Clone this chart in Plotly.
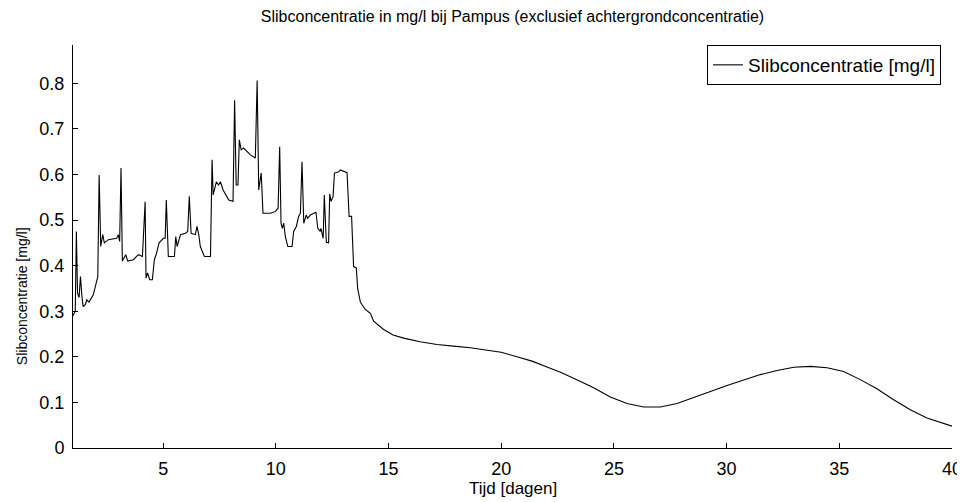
"""
Slibconcentratie bij Pampus over de tijd (exclusief achtergrondconcentratie).
"""

import plotly.graph_objects as go

# Tijd in dagen en concentratie in mg/l
tijd = [
    1.0, 1.1, 1.15, 1.2, 1.27, 1.33, 1.4, 1.45, 1.55, 1.61, 1.71, 1.9, 2.1, 2.16,
    2.23, 2.32, 2.39, 2.57, 2.94, 3.01, 3.07, 3.13, 3.19, 3.34, 3.43, 3.68, 3.9,
    4.08, 4.2, 4.24, 4.31, 4.4, 4.52, 4.61, 4.71, 4.82, 5.01, 5.09, 5.14, 5.23,
    5.5, 5.56, 5.62, 5.77, 5.99, 6.09, 6.16, 6.24, 6.43, 6.5, 6.58, 6.65, 6.83,
    7.1, 7.17, 7.22, 7.36, 7.46, 7.54, 7.66, 7.91, 8.1, 8.17, 8.24, 8.32, 8.38,
    8.46, 8.57, 8.87, 9.09, 9.17, 9.24, 9.35, 9.39, 9.43, 9.76, 9.98, 10.1,
    10.17, 10.23, 10.29, 10.35, 10.42, 10.53, 10.72, 10.79, 10.91, 11.01, 11.09,
    11.16, 11.24, 11.35, 11.41, 11.53, 11.68, 11.78, 11.86, 11.97, 12.0, 12.1,
    12.15, 12.24, 12.34, 12.39, 12.45, 12.54, 12.6, 12.79, 12.86, 13.16, 13.25,
    13.36, 13.45, 13.57, 13.63, 13.75, 13.95, 14.2, 14.34, 14.78, 15.2, 15.67,
    16.4, 17.15, 18.0, 18.63, 19.3, 20.0, 20.7, 21.4, 22.0, 22.63, 23.52, 24.1,
    24.84, 25.58, 26.32, 27.06, 27.8, 28.54, 29.28, 30.02, 30.76, 31.5, 32.24,
    32.98, 33.72, 34.46, 35.19, 35.93, 36.67, 37.41, 38.15, 38.89, 40.0,
]
slib = [
    0.29, 0.30, 0.475, 0.34, 0.33, 0.376, 0.33, 0.31, 0.315, 0.325, 0.32, 0.336,
    0.376, 0.599, 0.442, 0.468, 0.45, 0.457, 0.46, 0.468, 0.453, 0.614, 0.41,
    0.424, 0.41, 0.413, 0.424, 0.42, 0.54, 0.373, 0.384, 0.369, 0.369, 0.413,
    0.428, 0.45, 0.46, 0.46, 0.544, 0.42, 0.42, 0.464, 0.442, 0.468, 0.471,
    0.475, 0.552, 0.471, 0.468, 0.486, 0.468, 0.442, 0.42, 0.42, 0.632, 0.555,
    0.584, 0.577, 0.584, 0.566, 0.544, 0.541, 0.763, 0.577, 0.577, 0.676, 0.654,
    0.658, 0.643, 0.636, 0.806, 0.566, 0.603, 0.563, 0.515, 0.515, 0.519, 0.526,
    0.661, 0.493, 0.482, 0.493, 0.464, 0.442, 0.442, 0.475, 0.486, 0.508, 0.515,
    0.628, 0.493, 0.511, 0.504, 0.511, 0.515, 0.517, 0.482, 0.475, 0.482, 0.46,
    0.555, 0.451, 0.45, 0.557, 0.541, 0.552, 0.603, 0.606, 0.61, 0.604, 0.508,
    0.508, 0.398, 0.395, 0.35, 0.32, 0.305, 0.295, 0.278, 0.26, 0.248, 0.241,
    0.233, 0.227, 0.223, 0.22, 0.215, 0.21, 0.2, 0.19, 0.178, 0.166, 0.146,
    0.132, 0.112, 0.0975, 0.09, 0.09, 0.0975, 0.11, 0.124, 0.137, 0.149, 0.161,
    0.17, 0.177, 0.179, 0.176, 0.168, 0.15, 0.13, 0.106, 0.084, 0.066, 0.048,
]

x_ticks = [5, 10, 15, 20, 25, 30, 35, 40]
y_ticks = [0, 0.1, 0.2, 0.3, 0.4, 0.5, 0.6, 0.7, 0.8]
y_ticklabels = ["0", "0.1", "0.2", "0.3", "0.4", "0.5", "0.6", "0.7", "0.8"]

FONT = "Liberation Sans, Arial, sans-serif"

fig = go.Figure()
fig.add_trace(go.Scatter(
    x=tijd,
    y=slib,
    mode="lines",
    name="Slibconcentratie [mg/l]",
    line=dict(color="black", width=1.1),
))

# de pagina heeft 8px marge rondom, dus figuur iets kleiner
fig.update_layout(
    width=957,
    height=494,
    paper_bgcolor="white",
    plot_bgcolor="white",
    font=dict(family=FONT, size=16, color="black"),
    margin=dict(l=64.5, r=13, t=37, b=53.5),
    title=dict(
        text="Slibconcentratie in mg/l bij Pampus (exclusief achtergrondconcentratie)",
        x=0.5, xref="paper", y=0.994, yanchor="top", pad=dict(t=0),
        font=dict(size=16),
    ),
    legend=dict(
        x=0.9875, y=1.0, xanchor="right", yanchor="top",
        bgcolor="white", bordercolor="black", borderwidth=1,
        font=dict(size=19),
    ),
    showlegend=True,
)

# asbijschriften als annotaties zodat de plaats vast ligt
fig.add_annotation(
    text="Tijd [dagen]", xref="paper", yref="paper",
    x=0.5, y=-0.1, xanchor="center", yanchor="middle",
    showarrow=False, font=dict(size=17),
)
fig.add_annotation(
    text="Slibconcentratie [mg/l]", xref="paper", yref="paper",
    x=-0.0586, y=0.378, xanchor="center", yanchor="middle",
    textangle=-90, showarrow=False, font=dict(size=14),
)

fig.update_xaxes(
    range=[1, 40],
    tickvals=x_ticks,
    ticks="inside", ticklen=5, tickcolor="black",
    showline=True, linecolor="black", linewidth=1,
    showgrid=False, zeroline=False, automargin=False,
    tickfont=dict(size=18), ticklabelstandoff=4,
)
fig.update_yaxes(
    range=[0, 0.884],
    tickvals=y_ticks,
    ticktext=y_ticklabels,
    ticks="inside", ticklen=5, tickcolor="black",
    showline=True, linecolor="black", linewidth=1,
    showgrid=False, zeroline=False, automargin=False,
    tickfont=dict(size=18), ticklabelstandoff=4,
)

fig.write_html("out.html")
